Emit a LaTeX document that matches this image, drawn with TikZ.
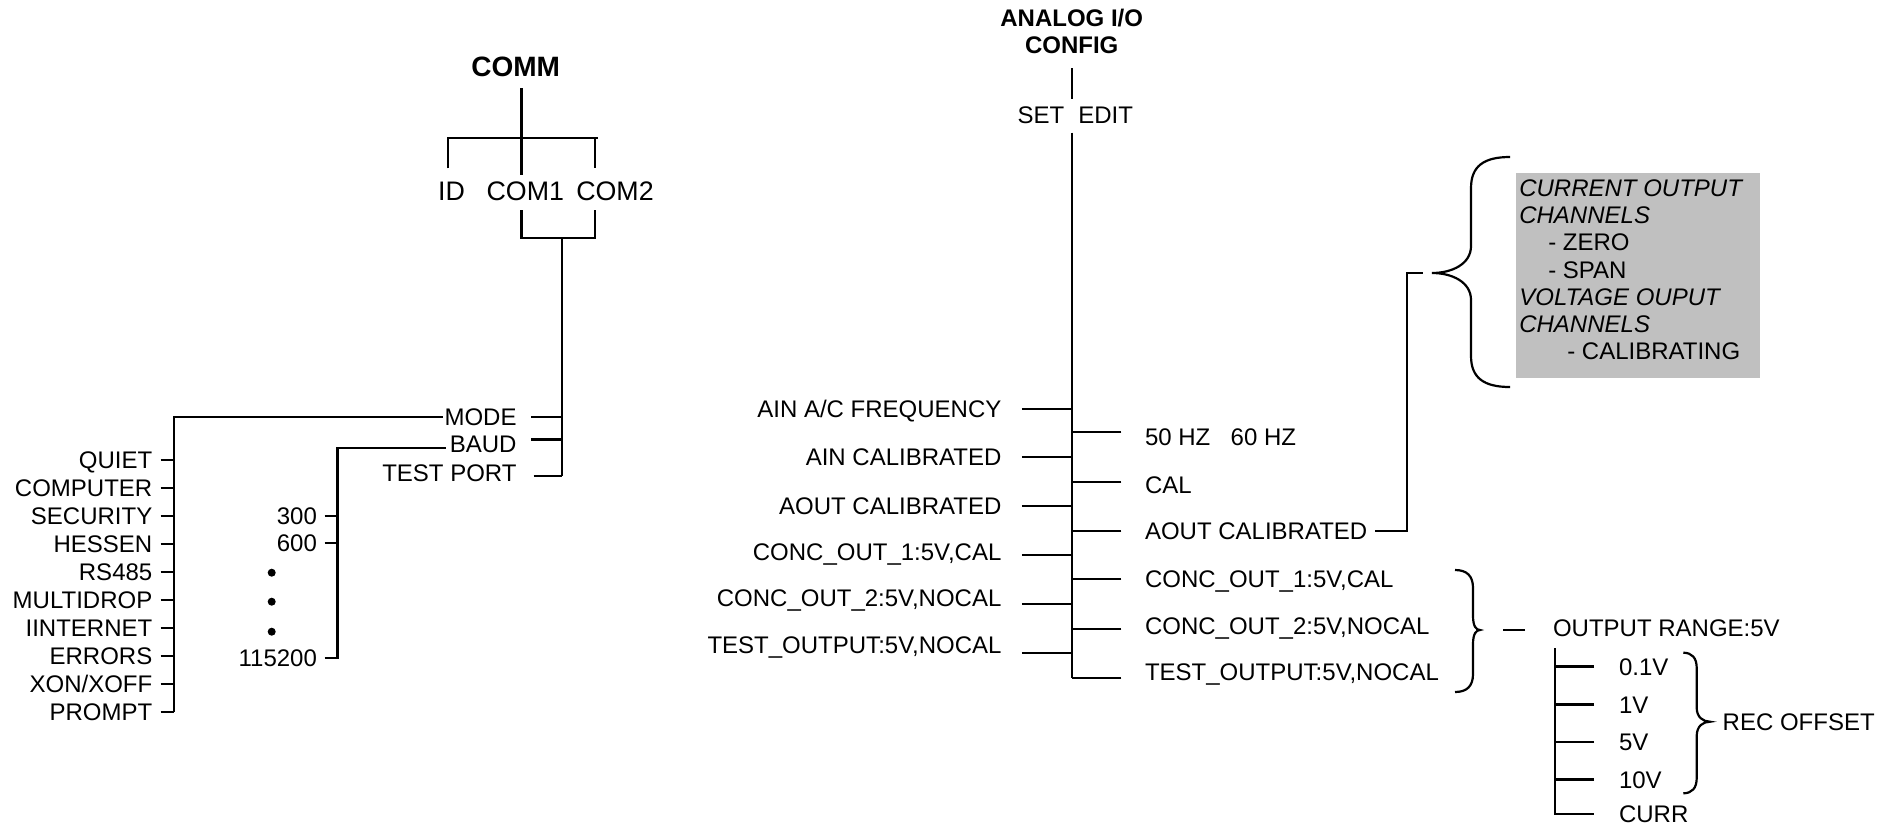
\documentclass[tikz,border=0pt]{standalone}
\usepackage{fontspec}
\setmainfont{Liberation Sans}
\definecolor{boxgray}{HTML}{C0C0C0}

\begin{document}
\begin{tikzpicture}[x=0.5pt, y=-0.5pt, line width=1.1pt,
  every node/.style={inner sep=0pt, outer sep=0pt, font=\fontsize{12}{14}\selectfont, text height=8.6pt, text depth=0pt},
  lft/.style={anchor=east}, rgt/.style={anchor=west},
  head/.style={font=\fontsize{12}{13.3}\selectfont\bfseries},
  commhead/.style={font=\fontsize{14}{16}\selectfont\bfseries},
  port/.style={font=\fontsize{13.4}{16}\selectfont, text height=9.6pt},
  multi/.style={text height={}, text depth={}}]

\useasboundingbox (0,0) rectangle (1898,825);

% COMM menu
\node (comm) [commhead] at (515.6,68.3) {COMM};
\draw (521.4,88.3) -- (521.4,175);
\draw (447.8,168.3) |- (598.2,137.7);
\draw (595,137.7) -- (595,168.3);
\node (id) [port] at (451.5,191) {ID};
\node (com1) [port] at (525.3,191) {COM1};
\node (com2) [port] at (615,191) {COM2};
\draw (521.4,210) |- (595,237.7) -- (595,210);
\coordinate (ctrunk) at (561.6,476);
\draw (561.6,237.7) -- (ctrunk);

\node (mode) [lft] at (516.5,416.7) {MODE};
\node (baud) [lft] at (516.5,444) {BAUD};
\node (tport) [lft] at (516.5,472.7) {TEST PORT};
\draw ([xshift=7.4pt]mode.east) -- (mode -| ctrunk);
\draw ([xshift=7.4pt,yshift=2.3pt]baud.east) -- ++(30.3,0);
\draw ([xshift=8.5pt,yshift=-1.5pt]tport.east) -- ++(28.1,0);

% MODE list
\coordinate (mtrunk) at (174.1,711.7);
\draw ([xshift=-1pt]mode.west) -| (mtrunk);
\node (quiet) [lft] at (152.3,460) {QUIET};
\node (computer) [lft] at (152.3,488) {COMPUTER};
\node (security) [lft] at (152.3,515.9) {SECURITY};
\node (hessen) [lft] at (152.3,543.9) {HESSEN};
\node (rsbus) [lft] at (152.3,571.9) {RS485};
\node (multidrop) [lft] at (152.3,599.9) {MULTIDROP};
\node (internet) [lft] at (152.3,627.8) {IINTERNET};
\node (errors) [lft] at (152.3,655.8) {ERRORS};
\node (xonxoff) [lft] at (152.3,683.8) {XON/XOFF};
\node (prompt) [lft] at (152.3,711.7) {PROMPT};
\draw ([xshift=4.2pt]quiet.east) -- (quiet -| mtrunk);
\draw ([xshift=4.2pt]computer.east) -- (computer -| mtrunk);
\draw ([xshift=4.2pt]security.east) -- (security -| mtrunk);
\draw ([xshift=4.2pt]hessen.east) -- (hessen -| mtrunk);
\draw ([xshift=4.2pt]rsbus.east) -- (rsbus -| mtrunk);
\draw ([xshift=4.2pt]multidrop.east) -- (multidrop -| mtrunk);
\draw ([xshift=4.2pt]internet.east) -- (internet -| mtrunk);
\draw ([xshift=4.2pt]errors.east) -- (errors -| mtrunk);
\draw ([xshift=4.2pt]xonxoff.east) -- (xonxoff -| mtrunk);
\draw ([xshift=4.2pt]prompt.east) -- (prompt -| mtrunk);

% BAUD list
\coordinate (btrunk) at (337.5,659.3);
\draw ([xshift=-2pt,yshift=-2.1pt]baud.west) -| (btrunk);
\node (bthree) [lft] at (316.9,516) {300};
\node (bsix) [lft] at (316.9,543.3) {600};
\node (bmax) [lft] at (316.9,658.3) {115200};
\draw ([xshift=3.8pt]bthree.east) -- (bthree -| btrunk);
\draw ([xshift=3.8pt]bsix.east) -- (bsix -| btrunk);
\draw ([xshift=3.8pt]bmax.east) -- (bmax -| btrunk);
\fill (271.7,572.7) circle (2pt);
\fill (271.7,601.7) circle (2pt);
\fill (271.7,631.7) circle (2pt);

% ANALOG I/O CONFIG menu
\node (aio) [head, multi, align=center] at (1071.7,31.7) {ANALOG I/O\\CONFIG};
\draw (1071.7,68.3) -- (1071.7,99.3);
\node (set) at (1041,115) {SET};
\node (edit) at (1105.7,115) {EDIT};
\coordinate (atrunk) at (1071.7,677.7);
\draw (1071.7,132.7) -- (atrunk);

\node (ainfreq) [lft] at (1001.4,409) {AIN A/C FREQUENCY};
\node (aincal) [lft] at (1001.4,457.3) {AIN CALIBRATED};
\node (aoutcal) [lft] at (1001.4,506) {AOUT CALIBRATED};
\node (concla) [lft] at (1001.4,551.7) {CONC\_OUT\_1:5V,CAL};
\node (conclb) [lft] at (1001.4,598.3) {CONC\_OUT\_2:5V,NOCAL};
\node (testl) [lft] at (1001.4,645) {TEST\_OUTPUT:5V,NOCAL};
\draw ([xshift=10.2pt]ainfreq.east) -- (ainfreq -| atrunk);
\draw ([xshift=10.2pt]aincal.east) -- (aincal -| atrunk);
\draw ([xshift=10.2pt]aoutcal.east) -- (aoutcal -| atrunk);
\draw ([xshift=10.2pt,yshift=-1.5pt]concla.east) -- ++(50.3,0);
\draw ([xshift=10.2pt,yshift=-2.85pt]conclb.east) -- ++(50.3,0);
\draw ([xshift=10.2pt,yshift=-4.15pt]testl.east) -- ++(50.3,0);

\node (hz) [rgt] at (1145,436.7) {50 HZ\hspace{10.2pt}60 HZ};
\node (cal) [rgt] at (1145,485) {CAL};
\node (aoutr) [rgt] at (1145,531) {AOUT CALIBRATED};
\node (concra) [rgt] at (1145,579.3) {CONC\_OUT\_1:5V,CAL};
\node (concrb) [rgt] at (1145,626) {CONC\_OUT\_2:5V,NOCAL};
\node (testr) [rgt] at (1145,671.7) {TEST\_OUTPUT:5V,NOCAL};
\draw ([xshift=-11.85pt,yshift=2.2pt]hz.west) -- ++(-49.5,0);
\draw ([xshift=-11.85pt,yshift=1.65pt]cal.west) -- ++(-49.5,0);
\draw ([xshift=-11.85pt]aoutr.west) -- (aoutr -| atrunk);
\draw ([xshift=-11.85pt]concra.west) -- (concra -| atrunk);
\draw ([xshift=-11.85pt,yshift=-1.35pt]concrb.west) -- ++(-49.5,0);
\draw ([xshift=-11.85pt,yshift=-3pt]testr.west) -- ++(-49.5,0);

% calibration note
\draw ([xshift=4.1pt]aoutr.east) -| (1407,273) -- (1423.3,273);
\draw (1510,157) .. controls (1484,157) and (1471,166) .. (1471,188) -- (1471,246)
  .. controls (1471,264) and (1452,273) .. (1432,273)
  .. controls (1452,273) and (1471,282) .. (1471,300) -- (1471,356)
  .. controls (1471,378) and (1484,387) .. (1510,387);
\fill[boxgray] (1516,173.3) rectangle (1760,377.7);
\node (chan) [multi, anchor=north west, align=left, font=\fontsize{12}{13.6}\selectfont] at (1519.3,179.7)
  {\textit{CURRENT OUTPUT}\\\textit{CHANNELS}\\\hspace*{14.5pt}- ZERO\\\hspace*{14.5pt}- SPAN\\\textit{VOLTAGE OUPUT}\\\textit{CHANNELS}\\\hspace*{24pt}- CALIBRATING};

% output range
\draw (1455,570) .. controls (1467,570) and (1473,576) .. (1473,588) -- (1473,616)
  .. controls (1473,626) and (1476,630) .. (1480,630)
  .. controls (1476,630) and (1473,634) .. (1473,644) -- (1473,674)
  .. controls (1473,686) and (1467,692) .. (1455,692);
\node (outr) [rgt] at (1553,628.3) {OUTPUT RANGE:5V};
\draw ([xshift=-14pt,yshift=-0.85pt]outr.west) -- ++(-22,0);
\coordinate (otrunk) at (1555,814);
\node (vtenth) [rgt] at (1619,666.5) {0.1V};
\node (vone) [rgt] at (1619,704.5) {1V};
\node (vfive) [rgt] at (1619,742) {5V};
\node (vten) [rgt] at (1619,779.5) {10V};
\node (curr) [rgt] at (1619,814) {CURR};
\draw (1555,648.3) |- ([xshift=-12.5pt]curr.west);
\draw ([xshift=-12.5pt]vtenth.west) -- (vtenth -| otrunk);
\draw ([xshift=-12.5pt]vone.west) -- (vone -| otrunk);
\draw ([xshift=-12.5pt]vfive.west) -- (vfive -| otrunk);
\draw ([xshift=-12.5pt]vten.west) -- (vten -| otrunk);
\draw (1683.3,652.7) .. controls (1692,652.7) and (1696.7,658) .. (1696.7,668) -- (1696.7,708)
  .. controls (1696.7,717) and (1703,721.7) .. (1710,721.7)
  .. controls (1703,721.7) and (1696.7,726) .. (1696.7,736) -- (1696.7,778)
  .. controls (1696.7,788) and (1692,793.3) .. (1683.3,793.3);
\node (recoff) [rgt] at (1722.7,721.7) {REC OFFSET};
\end{tikzpicture}
\end{document}
